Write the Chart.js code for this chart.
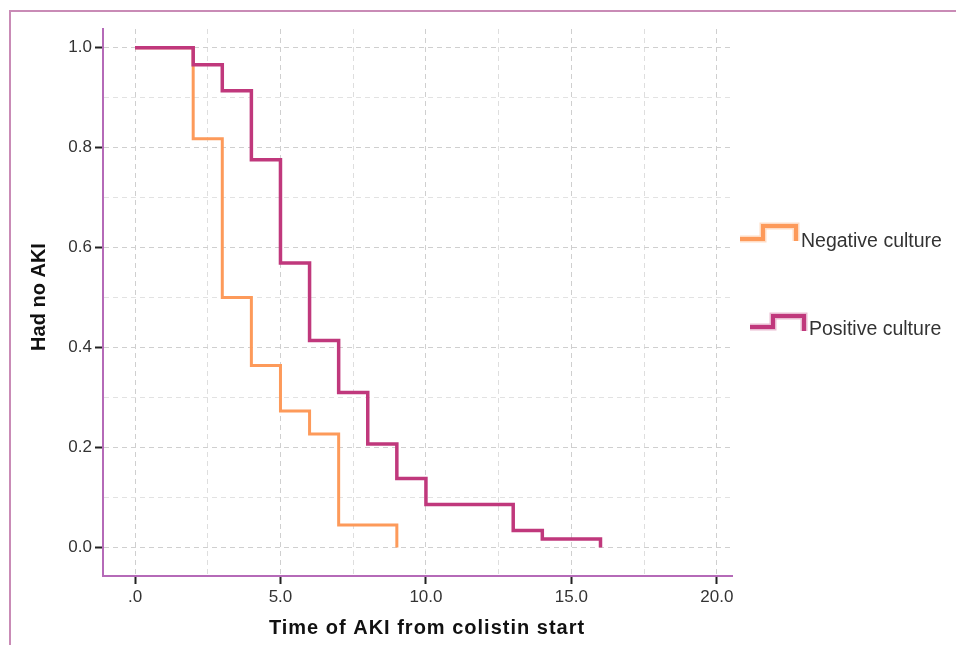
<!DOCTYPE html>
<html>
<head>
<meta charset="utf-8">
<script src="https://cdn.jsdelivr.net/npm/chart.js@4.4.1/dist/chart.umd.min.js"></script>
<style>
  html, body { margin: 0; padding: 0; background: #ffffff; }
  #wrap { position: relative; width: 956px; height: 645px; }
</style>
</head>
<body>
<div id="wrap"><canvas id="c"></canvas></div>
<script>
// ---- data ----
const seriesNames = ['Negative culture', 'Positive culture'];
const negTimes = [0, 2, 3, 4, 5, 6, 7, 9];
const negSurv  = [1.0, 0.818, 0.5, 0.364, 0.273, 0.227, 0.045, 0.0];
const posTimes = [0, 2, 3, 4, 5, 6, 7, 8, 9, 10, 13, 14, 16];
const posSurv  = [1.0, 0.966, 0.914, 0.776, 0.569, 0.414, 0.310, 0.207, 0.138, 0.086, 0.034, 0.017, 0.0];
const xTickValues = [0, 2.5, 5, 7.5, 10, 12.5, 15, 17.5, 20];
const xLabeled = [0, 5, 10, 15, 20];
const yTickValues = [0, 0.1, 0.2, 0.3, 0.4, 0.5, 0.6, 0.7, 0.8, 0.9, 1.0];
const yLabeled = [0, 0.2, 0.4, 0.6, 0.8, 1.0];
const xTitle = 'Time of AKI from colistin start';
const yTitle = 'Had no AKI';

// ---- styles ----
const negColor = '#fd9a5a';
const posColor = '#c0387c';
const axisColor = '#b56ab8';
const frameColor = '#c98bb6';

function toPts(xs, ys) { return xs.map((x, i) => ({ x: x, y: ys[i] })); }
function isLabeled(list, v) { return list.some(l => Math.abs(l - v) < 1e-6); }

const decor = {
  id: 'decor',
  beforeDraw(chart) {
    const ctx = chart.ctx;
    ctx.save();
    ctx.strokeStyle = frameColor;
    ctx.lineWidth = 2;
    ctx.strokeRect(10, 11, 980, 680);
    ctx.restore();
  },
  afterDraw(chart) {
    const ctx = chart.ctx;
    ctx.save();
    ctx.fillStyle = '#111';
    ctx.font = 'bold 20px "Liberation Sans", Arial, sans-serif';
    ctx.textAlign = 'center';
    ctx.textBaseline = 'middle';
    if ('letterSpacing' in ctx) ctx.letterSpacing = '1px';
    ctx.fillText(xTitle, 427, 628);
    ctx.save();
    ctx.translate(39, 297);
    ctx.rotate(-Math.PI / 2);
    if ('letterSpacing' in ctx) ctx.letterSpacing = '0px';
    ctx.fillText(yTitle, 0, 0);
    ctx.restore();

    // legend
    if ('letterSpacing' in ctx) ctx.letterSpacing = '0px';
    const items = [
      { name: seriesNames[0], color: negColor, x0: 740, x1: 763, x2: 796, yLow: 239, yHigh: 226, yEnd: 241, tx: 801, ty: 242 },
      { name: seriesNames[1], color: posColor, x0: 750, x1: 773, x2: 804, yLow: 327, yHigh: 316, yEnd: 331, tx: 809, ty: 330 }
    ];
    items.forEach(it => {
      ctx.save();
      ctx.strokeStyle = it.color;
      ctx.globalAlpha = 0.35;
      ctx.lineWidth = 7;
      ctx.lineJoin = 'miter';
      ctx.beginPath();
      ctx.moveTo(it.x0, it.yLow);
      ctx.lineTo(it.x1, it.yLow);
      ctx.lineTo(it.x1, it.yHigh);
      ctx.lineTo(it.x2, it.yHigh);
      ctx.lineTo(it.x2, it.yEnd);
      ctx.stroke();
      ctx.globalAlpha = 1;
      ctx.lineWidth = 4;
      ctx.stroke();
      ctx.restore();
      ctx.fillStyle = '#333';
      ctx.font = '19.5px "Liberation Sans", Arial, sans-serif';
      ctx.textAlign = 'left';
      ctx.textBaseline = 'middle';
      ctx.fillText(it.name, it.tx, it.ty);
    });
    ctx.restore();
  }
};

new Chart(document.getElementById('c'), {
  type: 'line',
  data: {
    datasets: [
      {
        label: seriesNames[0],
        data: toPts(negTimes, negSurv),
        borderColor: negColor,
        borderWidth: 3,
        stepped: true,
        pointRadius: 0,
        fill: false,
        order: 1
      },
      {
        label: seriesNames[1],
        data: toPts(posTimes, posSurv),
        borderColor: posColor,
        borderWidth: 3.5,
        stepped: true,
        pointRadius: 0,
        fill: false,
        order: 0
      }
    ]
  },
  options: {
    responsive: true,
    maintainAspectRatio: false,
    animation: false,
    layout: { padding: { left: 0, top: 29, right: 224, bottom: 0 } },
    plugins: { legend: { display: false }, tooltip: { enabled: false } },
    scales: {
      x: {
        type: 'linear',
        min: -1.1,
        max: 20.52,
        afterFit(scale) { scale.height = 69; },
        afterBuildTicks(scale) { scale.ticks = xTickValues.map(v => ({ value: v })); },
        ticks: {
          autoSkip: false,
          maxRotation: 0,
          padding: 3,
          color: '#333',
          font: { family: '"Liberation Sans", Arial, sans-serif', size: 17 },
          callback(v) {
            if (!isLabeled(xLabeled, v)) return '';
            return v === 0 ? '.0' : v.toFixed(1);
          }
        },
        grid: {
          color: ctx => (ctx.tick && isLabeled(xLabeled, ctx.tick.value)) ? '#cfcfcf' : '#dedede',
          lineWidth: 1,
          tickLength: 8,
          tickColor: ctx => (ctx.tick && isLabeled(xLabeled, ctx.tick.value)) ? '#222' : 'rgba(0,0,0,0)',
          tickWidth: 2,
          tickBorderDash: []
        },
        border: { display: true, color: axisColor, width: 2, dash: [5, 4] }
      },
      y: {
        type: 'linear',
        min: -0.057,
        max: 1.0374,
        afterFit(scale) { scale.width = 103; },
        afterBuildTicks(scale) { scale.ticks = yTickValues.map(v => ({ value: v })); },
        ticks: {
          autoSkip: false,
          padding: 3,
          color: '#333',
          font: { family: '"Liberation Sans", Arial, sans-serif', size: 17 },
          callback(v) {
            if (!isLabeled(yLabeled, v)) return '';
            return v.toFixed(1);
          }
        },
        grid: {
          color: ctx => (ctx.tick && isLabeled(yLabeled, ctx.tick.value)) ? '#cfcfcf' : '#e2e2e2',
          lineWidth: 1,
          tickLength: 8,
          tickColor: ctx => (ctx.tick && isLabeled(yLabeled, ctx.tick.value)) ? '#222' : 'rgba(0,0,0,0)',
          tickWidth: 2,
          tickBorderDash: []
        },
        border: { display: true, color: axisColor, width: 2, dash: [5, 4] }
      }
    }
  },
  plugins: [decor]
});
</script>
</body>
</html>
